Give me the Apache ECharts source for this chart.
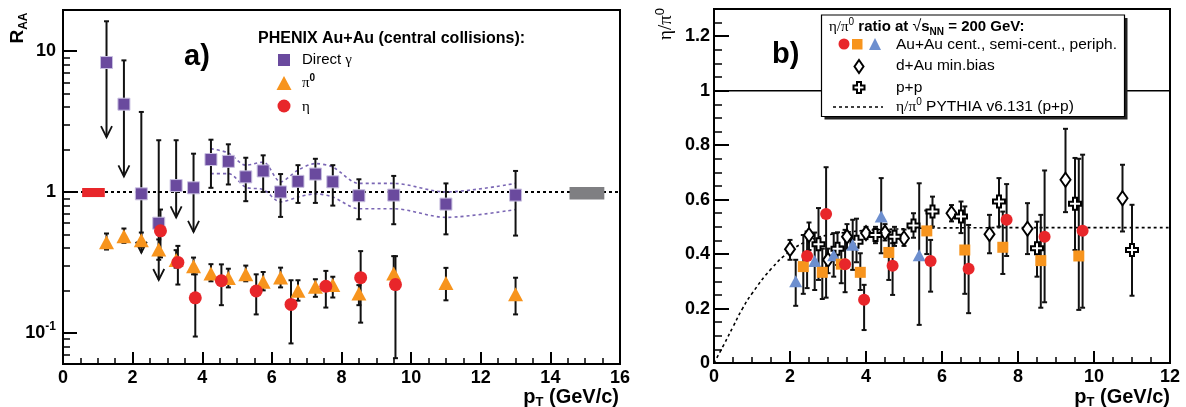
<!DOCTYPE html>
<html><head><meta charset="utf-8">
<script src="https://cdn.jsdelivr.net/npm/echarts@6/dist/echarts.min.js"></script>
<style>html,body{margin:0;padding:0;background:#fff}#c{width:1186px;height:407px}</style>
</head><body><div id="c"></div>
<script>
// ---------- Panel a) data : R_AA vs pT ----------
const gammaPt  = [1.25,1.75,2.25,2.75,3.25,3.75,4.25,4.75,5.25,5.75,6.25,6.75,7.25,7.75,8.5,9.5,11,13];
const gammaRaa = [8.3,4.2,0.97,0.60,1.11,1.07,1.70,1.65,1.28,1.41,1.00,1.19,1.34,1.18,0.94,0.95,0.82,0.95];
const gammaHi  = [16.3,8.6,3.7,2.33,2.33,1.87,2.35,2.18,1.75,1.82,1.34,1.55,1.72,1.55,1.23,1.30,1.15,1.41];
const gammaLo  = [2.45,1.29,0.37,0.237,0.66,0.52,1.07,1.13,0.86,1.0,0.665,0.836,0.836,0.80,0.64,0.59,0.50,0.49];
const gammaLimit = [1,1,1,1,1,1,0,0,0,0,0,0,0,0,0,0,0,0];

const bandPt = [4.25,4.75,5.25,5.75,6.25,6.75,7.25,7.75,8.5,9.5,11,13];
const bandHi = [2.03,1.89,1.55,1.63,1.18,1.43,1.59,1.50,1.15,1.15,1.0,1.15];
const bandLo = [1.35,1.35,1.08,1.04,0.85,0.92,0.97,0.92,0.76,0.76,0.66,0.75];

const pi0Pt  = [1.25,1.75,2.25,2.75,3.25,3.75,4.25,4.75,5.25,5.75,6.25,6.75,7.25,7.75,8.5,9.5,11,13];
const pi0Raa = [0.44,0.485,0.454,0.39,0.328,0.297,0.264,0.245,0.26,0.23,0.247,0.199,0.212,0.218,0.19,0.264,0.226,0.188];
const pi0Hi  = [0.507,0.55,0.515,0.46,0.386,0.342,0.307,0.285,0.30,0.27,0.29,0.236,0.24,0.25,0.218,0.35,0.289,0.246];
const pi0Lo  = [0.39,0.435,0.407,0.33,0.29,0.26,0.232,0.21,0.232,0.20,0.21,0.169,0.18,0.178,0.157,0.22,0.17,0.135];

const etaPt  = [2.8,3.3,3.8,4.55,5.55,6.55,7.55,8.55,9.55];
const etaRaa = [0.53,0.316,0.177,0.234,0.198,0.159,0.214,0.246,0.22];
const etaHi  = [0.75,0.414,0.26,0.306,0.26,0.236,0.275,0.38,0.35];
const etaLo  = [0.343,0.22,0.094,0.157,0.135,0.084,0.151,0.118,0.066];

const normX0 = [0.55,14.55];
const normX1 = [1.2,15.55];
const normLo = [0.92,0.885];
const normHi = [1.067,1.085];

// ---------- Panel b) data : eta/pi0 vs pT ----------
const cenPt = [2.45,2.95,3.45,3.95,4.7,5.7,6.7,7.7,8.7,9.7];
const cenR  = [0.393,0.547,0.363,0.232,0.357,0.375,0.346,0.526,0.464,0.486];
const cenHi = [0.483,0.719,0.489,0.287,0.44,0.452,0.507,0.657,0.707,0.765];
const cenLo = [0.275,0.24,0.26,0.121,0.25,0.262,0.183,0.393,0.223,0.203];

const semiPt = [2.35,2.85,3.35,3.85,4.6,5.6,6.6,7.6,8.6,9.6];
const semiR  = [0.354,0.333,0.363,0.333,0.406,0.485,0.415,0.425,0.376,0.393];
const semiHi = [0.47,0.42,0.428,0.403,0.483,0.56,0.575,0.556,0.544,0.75];
const semiLo = [0.254,0.235,0.293,0.268,0.305,0.40,0.254,0.327,0.203,0.195];

const perPt = [2.15,2.65,3.15,3.65,4.4,5.4];
const perR  = [0.30,0.375,0.396,0.434,0.538,0.396];
const perHi = [0.379,0.479,0.477,0.526,0.679,0.66];
const perLo = [0.21,0.268,0.317,0.342,0.403,0.14];

const dauPt = [2.0,2.5,3.0,3.5,4.0,4.5,5.0,6.25,7.25,8.25,9.25,10.75];
const dauR  = [0.418,0.47,0.379,0.464,0.477,0.479,0.458,0.55,0.473,0.493,0.673,0.605];
const dauHi = [0.452,0.516,0.42,0.51,0.50,0.51,0.49,0.58,0.544,0.587,0.86,0.728];
const dauLo = [0.379,0.415,0.33,0.42,0.455,0.45,0.43,0.52,0.403,0.40,0.554,0.483];

const ppPt = [2.75,3.25,3.75,4.25,4.75,5.25,5.75,6.5,7.5,8.5,9.5,11.0];
const ppR  = [0.436,0.42,0.445,0.47,0.464,0.505,0.556,0.538,0.593,0.421,0.585,0.415];
const ppHi = [0.569,0.48,0.53,0.50,0.50,0.55,0.611,0.593,0.679,0.519,0.753,0.581];
const ppLo = [0.305,0.36,0.37,0.44,0.43,0.46,0.501,0.477,0.501,0.317,0.415,0.247];

const pythiaPt = [0,0.25,0.5,0.75,1,1.5,2,2.5,3,3.5,4,5,6,8,10,12];
const pythiaR  = [0,0.065,0.133,0.2,0.255,0.345,0.41,0.45,0.47,0.48,0.487,0.493,0.496,0.497,0.497,0.497];

// ---------- tick values ----------
const leftYMajor = [0.1,1,10];
const leftYMinor = [0.07,0.08,0.09,0.2,0.3,0.4,0.5,0.6,0.7,0.8,0.9,2,3,4,5,6,7,8,9];
const rightYMajor = [0,0.2,0.4,0.6,0.8,1,1.2];
const rightYMinor = [0.05,0.1,0.15,0.25,0.3,0.35,0.45,0.5,0.55,0.65,0.7,0.75,0.85,0.9,0.95,1.05,1.1,1.15,1.25];

const FONT = '"Liberation Sans", Arial, sans-serif';
const SERIF = '"Liberation Serif", "DejaVu Serif", serif';
const zip = (...a) => a[0].map((_, i) => a.map(arr => arr[i]));

function errBars(params, api) {
  const x = api.value(0), lo = api.value(1), hi = api.value(2), lim = api.value(3);
  const a = api.coord([x, hi]), b = api.coord([x, lo]);
  const st = {stroke: '#111', lineWidth: 2};
  const ch = [
    {type: 'line', shape: {x1: a[0], y1: a[1], x2: b[0], y2: b[1]}, style: st},
    {type: 'line', shape: {x1: a[0] - 2.5, y1: a[1], x2: a[0] + 2.5, y2: a[1]}, style: st}
  ];
  if (lim === 1) {
    ch.push({type: 'polyline', shape: {points: [[b[0] - 5.5, b[1] - 11], [b[0], b[1]], [b[0] + 5.5, b[1] - 11]]},
             style: {stroke: '#111', lineWidth: 1.8, fill: null}});
  } else {
    ch.push({type: 'line', shape: {x1: b[0] - 2.5, y1: b[1], x2: b[0] + 2.5, y2: b[1]}, style: st});
  }
  return {type: 'group', children: ch};
}
const boxColors = ['#e8262a', '#7f7f82'];
function boxes(params, api) {
  const p0 = api.coord([api.value(0), api.value(3)]);
  const p1 = api.coord([api.value(1), api.value(2)]);
  return {type: 'rect', shape: {x: p0[0], y: p0[1], width: p1[0] - p0[0], height: p1[1] - p0[1]},
          style: {fill: boxColors[params.dataIndex]}};
}

const tickLabel = {color: '#000', fontSize: 18, fontWeight: 'bold', fontFamily: FONT, margin: 5};
function xAxis(grid, max) {
  return {gridIndex: grid, type: 'value', min: 0, max: max, interval: 2, position: 'bottom',
    axisLine: {show: true, onZero: false, lineStyle: {color: '#000', width: 2}},
    axisTick: {show: true, inside: true, length: 12, lineStyle: {color: '#000', width: 2}},
    minorTick: {show: true, splitNumber: 4, length: 6, lineStyle: {color: '#000', width: 1.5}},
    axisLabel: tickLabel, splitLine: {show: false}, minorSplitLine: {show: false}};
}

const option = {
  animation: false,
  backgroundColor: '#fff',
  grid: [
    {left: 63, top: 10, width: 557, height: 354, show: true, borderColor: '#000', borderWidth: 2, outerBoundsMode: 'none', containLabel: false},
    {left: 714, top: 9, width: 456, height: 354, show: true, borderColor: '#000', borderWidth: 2, outerBoundsMode: 'none', containLabel: false}
  ],
  xAxis: [xAxis(0, 16), xAxis(1, 12)],
  yAxis: [
    {gridIndex: 0, type: 'log', logBase: 10, min: 0.06, max: 19.6, position: 'left',
     axisLine: {show: true, onZero: false, lineStyle: {color: '#000', width: 2}},
     axisTick: {show: true, inside: true, length: 14, customValues: leftYMajor, lineStyle: {color: '#000', width: 2}},
     axisLabel: {customValues: leftYMajor, margin: 7,
       formatter: v => v < 0.5 ? '{b|10}{s|-1}' : (v > 5 ? '{b|10}' : '{b|1}'),
       rich: {b: {fontSize: 18, fontWeight: 'bold', fontFamily: FONT, color: '#000', lineHeight: 24},
              s: {fontSize: 12, fontWeight: 'bold', fontFamily: FONT, color: '#000', lineHeight: 13, verticalAlign: 'top'}}},
     splitLine: {show: false}},
    {gridIndex: 0, type: 'log', logBase: 10, min: 0.06, max: 19.6, position: 'left',
     axisLine: {show: false},
     axisTick: {show: true, inside: true, length: 7, customValues: leftYMinor, lineStyle: {color: '#000', width: 1.5}},
     axisLabel: {show: false}, splitLine: {show: false}},
    {gridIndex: 1, type: 'value', min: 0, max: 1.3, position: 'left',
     axisLine: {show: true, onZero: false, lineStyle: {color: '#000', width: 2}},
     axisTick: {show: true, inside: true, length: 15, customValues: rightYMajor, lineStyle: {color: '#000', width: 2}},
     axisLabel: Object.assign({}, tickLabel, {customValues: rightYMajor, margin: 4}),
     splitLine: {show: false}},
    {gridIndex: 1, type: 'value', min: 0, max: 1.3, position: 'left',
     axisLine: {show: false},
     axisTick: {show: true, inside: true, length: 8, customValues: rightYMinor, lineStyle: {color: '#000', width: 1.5}},
     axisLabel: {show: false}, splitLine: {show: false}}
  ],
  series: [
    // ---- panel a ----
    {type: 'line', xAxisIndex: 0, yAxisIndex: 0, data: zip([0, 16], [1, 1]), symbol: 'none', silent: true, z: 1,
     lineStyle: {color: '#000', width: 2, type: [3, 3]}},
    {type: 'custom', xAxisIndex: 0, yAxisIndex: 0, renderItem: boxes, data: zip(normX0, normX1, normLo, normHi),
     encode: {x: [0, 1], y: [2, 3]}, silent: true, z: 2},
    {type: 'line', xAxisIndex: 0, yAxisIndex: 0, data: zip(bandPt, bandHi), symbol: 'none', smooth: 0.3, silent: true, z: 2,
     lineStyle: {color: '#7a66b4', width: 1.6, type: [3, 3]}},
    {type: 'line', xAxisIndex: 0, yAxisIndex: 0, data: zip(bandPt, bandLo), symbol: 'none', smooth: 0.3, silent: true, z: 2,
     lineStyle: {color: '#7a66b4', width: 1.6, type: [3, 3]}},
    {type: 'custom', xAxisIndex: 0, yAxisIndex: 0, renderItem: errBars, data: zip(gammaPt, gammaLo, gammaHi, gammaLimit),
     encode: {x: 0, y: [1, 2]}, silent: true, z: 3},
    {type: 'custom', xAxisIndex: 0, yAxisIndex: 0, renderItem: errBars, data: zip(pi0Pt, pi0Lo, pi0Hi),
     encode: {x: 0, y: [1, 2]}, silent: true, z: 3},
    {type: 'custom', xAxisIndex: 0, yAxisIndex: 0, renderItem: errBars, data: zip(etaPt, etaLo, etaHi),
     encode: {x: 0, y: [1, 2]}, silent: true, z: 3},
    {type: 'scatter', xAxisIndex: 0, yAxisIndex: 0, data: zip(gammaPt, gammaRaa), symbol: 'rect', symbolSize: 12, silent: true, z: 5,
     itemStyle: {color: '#6a4a9e', borderColor: '#c8bfe0', borderWidth: 1, opacity: 1}},
    {type: 'scatter', xAxisIndex: 0, yAxisIndex: 0, data: zip(pi0Pt, pi0Raa), symbol: 'triangle', symbolSize: [15, 14], silent: true, z: 5,
     itemStyle: {color: '#f7941d', opacity: 1}},
    {type: 'scatter', xAxisIndex: 0, yAxisIndex: 0, data: zip(etaPt, etaRaa), symbol: 'circle', symbolSize: 13, silent: true, z: 6,
     itemStyle: {color: '#e8262a', opacity: 1}},
    // ---- panel b ----
    {type: 'line', xAxisIndex: 1, yAxisIndex: 2, data: zip([0, 12], [1, 1]), symbol: 'none', silent: true, z: 1,
     lineStyle: {color: '#000', width: 1.5}},
    {type: 'line', xAxisIndex: 1, yAxisIndex: 2, data: zip(pythiaPt, pythiaR), symbol: 'none', smooth: 0.5, silent: true, z: 2,
     lineStyle: {color: '#000', width: 1.6, type: [3, 3]}},
    {type: 'custom', xAxisIndex: 1, yAxisIndex: 2, renderItem: errBars, data: zip(dauPt, dauLo, dauHi), encode: {x: 0, y: [1, 2]}, silent: true, z: 3},
    {type: 'custom', xAxisIndex: 1, yAxisIndex: 2, renderItem: errBars, data: zip(ppPt, ppLo, ppHi), encode: {x: 0, y: [1, 2]}, silent: true, z: 3},
    {type: 'custom', xAxisIndex: 1, yAxisIndex: 2, renderItem: errBars, data: zip(cenPt, cenLo, cenHi), encode: {x: 0, y: [1, 2]}, silent: true, z: 3},
    {type: 'custom', xAxisIndex: 1, yAxisIndex: 2, renderItem: errBars, data: zip(semiPt, semiLo, semiHi), encode: {x: 0, y: [1, 2]}, silent: true, z: 3},
    {type: 'custom', xAxisIndex: 1, yAxisIndex: 2, renderItem: errBars, data: zip(perPt, perLo, perHi), encode: {x: 0, y: [1, 2]}, silent: true, z: 3},
    {type: 'scatter', xAxisIndex: 1, yAxisIndex: 2, data: zip(dauPt, dauR), symbol: 'diamond', symbolSize: [10, 14], silent: true, z: 5,
     itemStyle: {color: '#fff', borderColor: '#000', borderWidth: 2, opacity: 1}},
    {type: 'scatter', xAxisIndex: 1, yAxisIndex: 2, data: zip(ppPt, ppR), symbol: 'path://M4,0H8V4H12V8H8V12H4V8H0V4H4Z', symbolSize: 12, silent: true, z: 5,
     itemStyle: {color: '#fff', borderColor: '#000', borderWidth: 2, opacity: 1}},
    {type: 'scatter', xAxisIndex: 1, yAxisIndex: 2, data: zip(perPt, perR), symbol: 'triangle', symbolSize: [13, 12], silent: true, z: 6,
     itemStyle: {color: '#6d8fcf', opacity: 1}},
    {type: 'scatter', xAxisIndex: 1, yAxisIndex: 2, data: zip(semiPt, semiR), symbol: 'rect', symbolSize: 11, silent: true, z: 6,
     itemStyle: {color: '#f7941d', opacity: 1}},
    {type: 'scatter', xAxisIndex: 1, yAxisIndex: 2, data: zip(cenPt, cenR), symbol: 'circle', symbolSize: 12, silent: true, z: 6,
     itemStyle: {color: '#e8262a', opacity: 1}}
  ],
  graphic: [
    // axis titles
    {type: 'text', x: 18, y: 28, rotation: Math.PI / 2, z: 20, silent: true,
     style: {text: '{b|R}{s|AA}', align: 'center', verticalAlign: 'middle',
       rich: {b: {font: 'bold 19px ' + FONT, fill: '#000', lineHeight: 24},
              s: {font: 'bold 12px ' + FONT, fill: '#000', lineHeight: 13, verticalAlign: 'bottom'}}}},
    {type: 'text', x: 666, y: 24, rotation: Math.PI / 2, z: 20, silent: true,
     style: {text: '{b|η/π}{s|0}', align: 'center', verticalAlign: 'middle',
       rich: {b: {font: '19px ' + SERIF, fill: '#000', lineHeight: 24},
              s: {font: '13px ' + FONT, fill: '#000', lineHeight: 13, verticalAlign: 'top'}}}},
    {type: 'text', x: 619, y: 397, z: 20, silent: true,
     style: {text: '{b|p}{s|T}{b| (GeV/c)}', align: 'right', verticalAlign: 'middle',
       rich: {b: {font: 'bold 20px ' + FONT, fill: '#000', lineHeight: 24},
              s: {font: 'bold 13px ' + FONT, fill: '#000', lineHeight: 14, verticalAlign: 'bottom'}}}},
    {type: 'text', x: 1170, y: 397, z: 20, silent: true,
     style: {text: '{b|p}{s|T}{b| (GeV/c)}', align: 'right', verticalAlign: 'middle',
       rich: {b: {font: 'bold 20px ' + FONT, fill: '#000', lineHeight: 24},
              s: {font: 'bold 13px ' + FONT, fill: '#000', lineHeight: 14, verticalAlign: 'bottom'}}}},
    // panel labels
    {type: 'text', x: 184, y: 57, z: 20, silent: true, style: {text: 'a)', font: 'bold 29px ' + FONT, fill: '#000', verticalAlign: 'middle'}},
    {type: 'text', x: 772, y: 55, z: 20, silent: true, style: {text: 'b)', font: 'bold 29px ' + FONT, fill: '#000', verticalAlign: 'middle'}},
    // legend panel a
    {type: 'text', x: 258, y: 39, z: 20, silent: true, style: {text: 'PHENIX Au+Au (central collisions):', font: 'bold 16px ' + FONT, fill: '#000', verticalAlign: 'middle'}},
    {type: 'rect', z: 20, silent: true, shape: {x: 278, y: 54, width: 12, height: 12}, style: {fill: '#6a4a9e'}},
    {type: 'polygon', z: 20, silent: true, shape: {points: [[284, 76], [291.5, 90], [276.5, 90]]}, style: {fill: '#f7941d'}},
    {type: 'circle', z: 20, silent: true, shape: {cx: 284, cy: 106, r: 6.5}, style: {fill: '#e8262a'}},
    {type: 'text', x: 302, y: 60, z: 20, silent: true,
     style: {text: '{t|Direct }{g|γ}', verticalAlign: 'middle',
       rich: {t: {font: '15px ' + FONT, fill: '#000'}, g: {font: '15px ' + SERIF, fill: '#000'}}}},
    {type: 'text', x: 302, y: 83, z: 20, silent: true,
     style: {text: '{g|π}{s|0}', verticalAlign: 'middle',
       rich: {g: {font: '15px ' + SERIF, fill: '#000', lineHeight: 20}, s: {font: 'bold 10px ' + FONT, fill: '#000', lineHeight: 11, verticalAlign: 'top'}}}},
    {type: 'text', x: 302, y: 107, z: 20, silent: true,
     style: {text: 'η', font: '15px ' + SERIF, fill: '#000', verticalAlign: 'middle'}},
    // legend panel b
    {type: 'rect', z: 20, silent: true, shape: {x: 824.5, y: 18, width: 303, height: 101.5}, style: {fill: '#222'}},
    {type: 'rect', z: 21, silent: true, shape: {x: 821.5, y: 15, width: 303, height: 101.5}, style: {fill: '#fff', stroke: '#000', lineWidth: 1.2}},
    {type: 'text', x: 829, y: 27, z: 22, silent: true,
     style: {text: '{g|η/π}{s|0}{b| ratio at }{r|√}{b|s}{u|NN}{b| = 200 GeV:}', verticalAlign: 'middle',
       rich: {g: {font: '15px ' + SERIF, fill: '#000', lineHeight: 20},
              s: {font: '10px ' + FONT, fill: '#000', lineHeight: 11, verticalAlign: 'top'},
              b: {font: 'bold 15px ' + FONT, fill: '#000', lineHeight: 20},
              r: {font: '16px ' + FONT, fill: '#000', lineHeight: 20},
              u: {font: 'bold 10px ' + FONT, fill: '#000', lineHeight: 10, verticalAlign: 'bottom'}}}},
    {type: 'circle', z: 22, silent: true, shape: {cx: 844, cy: 44, r: 5.5}, style: {fill: '#e8262a'}},
    {type: 'rect', z: 22, silent: true, shape: {x: 852, y: 39, width: 10.5, height: 10.5}, style: {fill: '#f7941d'}},
    {type: 'polygon', z: 22, silent: true, shape: {points: [[875, 38], [881, 50], [869, 50]]}, style: {fill: '#6d8fcf'}},
    {type: 'text', x: 896, y: 45, z: 22, silent: true, style: {text: 'Au+Au cent., semi-cent., periph.', font: '15.5px ' + FONT, fill: '#000', verticalAlign: 'middle'}},
    {type: 'polygon', z: 22, silent: true, shape: {points: [[859, 60], [863.5, 66.5], [859, 73], [854.5, 66.5]]}, style: {fill: '#fff', stroke: '#000', lineWidth: 2}},
    {type: 'text', x: 896, y: 66, z: 22, silent: true, style: {text: 'd+Au min.bias', font: '15.5px ' + FONT, fill: '#000', verticalAlign: 'middle'}},
    {type: 'polygon', z: 22, silent: true, shape: {points: [[857, 82], [861, 82], [861, 85.5], [864.5, 85.5], [864.5, 89.5], [861, 89.5], [861, 93], [857, 93], [857, 89.5], [853.5, 89.5], [853.5, 85.5], [857, 85.5]]}, style: {fill: '#fff', stroke: '#000', lineWidth: 2}},
    {type: 'text', x: 896, y: 88, z: 22, silent: true, style: {text: 'p+p', font: '15.5px ' + FONT, fill: '#000', verticalAlign: 'middle'}},
    {type: 'line', z: 22, silent: true, shape: {x1: 833, y1: 107, x2: 883, y2: 107}, style: {stroke: '#000', lineWidth: 1.5, lineDash: [3, 3]}},
    {type: 'text', x: 896, y: 107, z: 22, silent: true,
     style: {text: '{g|η/π}{s|0}{t| PYTHIA v6.131 (p+p)}', verticalAlign: 'middle',
       rich: {g: {font: '15.5px ' + SERIF, fill: '#000', lineHeight: 20},
              s: {font: '10px ' + FONT, fill: '#000', lineHeight: 11, verticalAlign: 'top'},
              t: {font: '15.5px ' + FONT, fill: '#000', lineHeight: 20}}}}
  ]
};
const chart = echarts.init(document.getElementById('c'), null, {renderer: 'canvas'});
chart.setOption(option);
</script></body></html>
